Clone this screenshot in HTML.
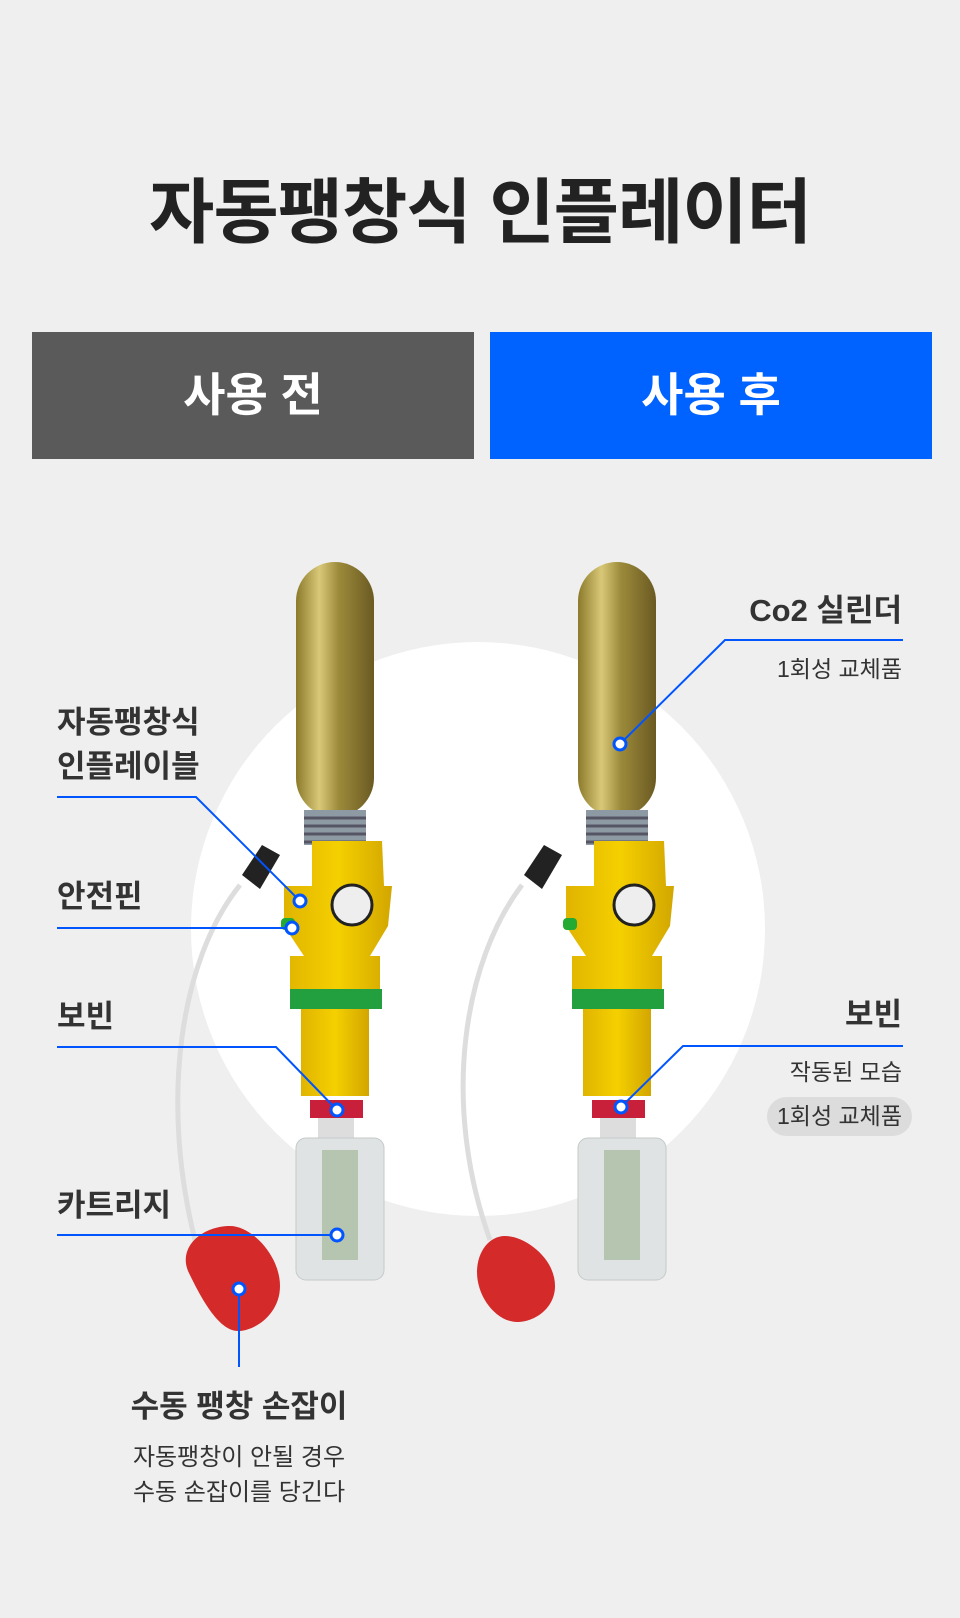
<!DOCTYPE html>
<html><head><meta charset="utf-8"><style>
html,body{margin:0;padding:0}
body{width:960px;height:1618px;background:#efefef;position:relative;overflow:hidden;font-family:"Liberation Sans","Noto Sans CJK KR",sans-serif;color:#333}
.t{position:absolute;white-space:nowrap;line-height:1}
.b{font-weight:700}
</style></head><body>
<div class="t b" style="left:0;width:960px;text-align:center;top:178px;font-size:71px;color:#222;letter-spacing:-1px">자동팽창식 인플레이터</div>
<div style="position:absolute;left:32px;top:332px;width:442px;height:127px;background:#5a5a5a"></div>
<div style="position:absolute;left:490px;top:332px;width:442px;height:127px;background:#0062ff"></div>
<div class="t b" style="left:32px;width:442px;text-align:center;top:372px;font-size:46px;color:#fff">사용 전</div>
<div class="t b" style="left:490px;width:442px;text-align:center;top:372px;font-size:46px;color:#fff">사용 후</div>

<svg width="960" height="1618" style="position:absolute;left:0;top:0">
<defs>
<linearGradient id="cyl" x1="0" x2="1"><stop offset="0" stop-color="#8a7a2a"/><stop offset=".3" stop-color="#d8c878"/><stop offset=".55" stop-color="#9c8a3a"/><stop offset="1" stop-color="#6a5a22"/></linearGradient>
<linearGradient id="yel" x1="0" x2="1"><stop offset="0" stop-color="#e0b400"/><stop offset=".5" stop-color="#f5d000"/><stop offset="1" stop-color="#d2a600"/></linearGradient>
<g id="dev">
 <rect x="296" y="562" width="78" height="255" rx="39" fill="url(#cyl)"/>
 <rect x="304" y="810" width="62" height="35" fill="#8e9aa3"/>
 <path d="M304 818h62M304 826h62M304 834h62M304 842h62" stroke="#556" stroke-width="3"/>
 <path d="M312 841h70l2 45h8l-4 40-18 30h10v34h-90v-34h14l-20-30v-40h28z" fill="url(#yel)"/>
 <circle cx="352" cy="905" r="20" fill="#eee" stroke="#222" stroke-width="3"/>
 <rect x="281" y="918" width="14" height="12" rx="4" fill="#22aa33"/>
 <rect x="290" y="989" width="92" height="20" fill="#22a040"/>
 <rect x="301" y="1009" width="68" height="87" fill="url(#yel)"/>
 <rect x="310" y="1100" width="53" height="18" fill="#c8203a"/>
 <rect x="318" y="1118" width="36" height="20" fill="#ddd"/>
 <rect x="296" y="1138" width="88" height="142" rx="10" fill="#dfe3e3" stroke="#c4caca"/>
 <rect x="322" y="1150" width="36" height="110" fill="#9bb08c" opacity=".6"/>
 <path d="M242 875l20-30 18 10-20 34z" fill="#222"/>
</g>
</defs>
<circle cx="478" cy="929" r="287" fill="#fff"/>
<use href="#dev"/>
<use href="#dev" x="282"/>
<path d="M240 885C180 960 160 1100 195 1240" stroke="#ddd" stroke-width="5" fill="none"/>
<path d="M522 885C465 960 440 1100 490 1240" stroke="#ddd" stroke-width="5" fill="none"/>
<path d="M230 1226c22 0 50 30 50 60 0 28-25 45-42 45-20 0-38-35-50-60-10-25 15-45 42-45z" fill="#d42a2a"/>
<path d="M505 1236c20 0 50 22 50 50 0 22-20 36-38 36-20 0-40-24-40-50 0-20 12-36 28-36z" fill="#d42a2a"/>
<g stroke="#0055ff" stroke-width="2" fill="none">
<path d="M57 797H196L300 901"/>
<path d="M57 928H292"/>
<path d="M57 1047H276L337 1110"/>
<path d="M57 1235H337"/>
<path d="M239 1289V1367"/>
<path d="M903 640H725L620 744"/>
<path d="M903 1046H683L621 1107"/>
</g>
<g fill="#fff" stroke="#0055ff" stroke-width="3">
<circle cx="300" cy="901" r="6"/><circle cx="292" cy="928" r="6"/><circle cx="337" cy="1110" r="6"/><circle cx="337" cy="1235" r="6"/><circle cx="239" cy="1289" r="6"/><circle cx="620" cy="744" r="6"/><circle cx="621" cy="1107" r="6"/>
</g>
</svg>

<div class="t b" style="left:57px;top:707px;font-size:31px">자동팽창식</div>
<div class="t b" style="left:57px;top:751px;font-size:31px">인플레이블</div>
<div class="t b" style="left:57px;top:881px;font-size:31px">안전핀</div>
<div class="t b" style="left:57px;top:1001px;font-size:31px">보빈</div>
<div class="t b" style="left:57px;top:1190px;font-size:31px">카트리지</div>
<div class="t b" style="left:89px;width:300px;text-align:center;top:1391px;font-size:31px">수동 팽창 손잡이</div>
<div class="t" style="left:89px;width:300px;text-align:center;top:1446px;font-size:24px">자동팽창이 안될 경우</div>
<div class="t" style="left:89px;width:300px;text-align:center;top:1481px;font-size:24px">수동 손잡이를 당긴다</div>

<div class="t b" style="right:58px;top:595px;font-size:31px">Co2 실린더</div>
<div class="t" style="right:58px;top:658px;font-size:23px">1회성 교체품</div>
<div class="t b" style="right:58px;top:999px;font-size:31px">보빈</div>
<div class="t" style="right:58px;top:1061px;font-size:23px">작동된 모습</div>
<div style="position:absolute;left:767px;top:1097px;width:145px;height:39px;border-radius:20px;background:#dcdcdc"></div>
<div class="t" style="left:767px;width:145px;text-align:center;top:1105px;font-size:23px">1회성 교체품</div>
</body></html>
